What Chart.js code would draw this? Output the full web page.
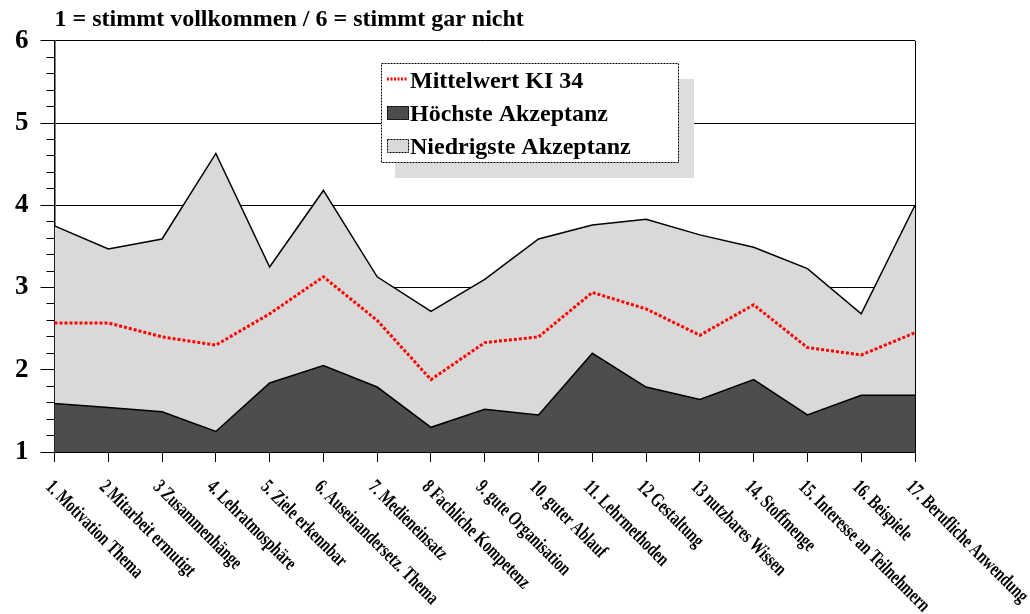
<!DOCTYPE html>
<html>
<head>
<meta charset="utf-8">
<script src="https://cdn.jsdelivr.net/npm/chart.js@4"></script>
<style>
  body { margin: 0; background: #fff; }
</style>
</head>
<body>
<canvas id="akzeptanzChart" width="1030" height="614"></canvas>
<script>
'use strict';

//** Data */

let kategorien = [
  '1. Motivation Thema', '2 Mitarbeit ermutigt', '3 Zusammenhänge', '4. Lehratmosphäre',
  '5. Ziele erkennbar', '6. Auseinandersetz. Thema', '7. Medieneinsatz', '8 Fachliche Kompetenz',
  '9. gute Organisation', '10. guter Ablauf', '11. Lehrmethoden', '12 Gestaltung',
  '13 nutzbares Wissen', '14. Stoffmenge', '15. Interesse an Teilnehmern', '16. Beispiele',
  '17. Berufliche Anwendung'
];

let mittelwert = [2.57, 2.57, 2.40, 2.30, 2.68, 3.13, 2.60, 1.88, 2.33, 2.40, 2.94, 2.74, 2.42, 2.79, 2.27, 2.18, 2.45];
let hoechste = [1.59, 1.54, 1.49, 1.25, 1.84, 2.05, 1.79, 1.30, 1.52, 1.45, 2.20, 1.79, 1.64, 1.88, 1.45, 1.69, 1.69];
let niedrigste = [3.75, 3.47, 3.59, 4.63, 3.25, 4.18, 3.13, 2.71, 3.10, 3.59, 3.76, 3.83, 3.64, 3.49, 3.23, 2.68, 4.00];

let skalaMin = 1;
let skalaMax = 6;
let untertitel = '1 = stimmt vollkommen / 6 = stimmt gar nicht';

let serif = '"Liberation Serif", "Times New Roman", serif';

function isGanzzahl(v){
  return Math.abs(v - Math.round(v)) < 1e-6;
}

//** Plugins */

// rotated category labels, reading downwards from each tick
let kategorieLabels = {
  id: 'kategorieLabels',
  afterDraw(chart){
    let ctx = chart.ctx;
    let xScale = chart.scales.x;
    ctx.save();
    ctx.fillStyle = '#000';
    ctx.font = 'bold 20px ' + serif;
    ctx.textAlign = 'left';
    ctx.textBaseline = 'top';
    for (let i = 0; i < kategorien.length; i++){
      let x = xScale.getPixelForValue(i);
      ctx.save();
      ctx.translate(x + 1, xScale.bottom + 15);
      ctx.rotate(Math.PI / 4);
      ctx.scale(0.72, 1);
      ctx.fillText(kategorien[i], 0, 0);
      ctx.restore();
    }
    ctx.restore();
  }
};

// boxed legend with drop shadow inside the plot
let schattenLegende = {
  id: 'schattenLegende',
  afterDatasetsDraw(chart){
    let ctx = chart.ctx;
    let box = { x: 381, y: 63, w: 297, h: 99 };
    ctx.save();
    ctx.fillStyle = '#dddddd';
    ctx.fillRect(box.x + 14, box.y + 16, box.w + 2, box.h);
    ctx.fillStyle = '#fff';
    ctx.fillRect(box.x, box.y, box.w, box.h);
    ctx.strokeStyle = '#000';
    ctx.lineWidth = 1;
    ctx.setLineDash([2, 1]);
    ctx.strokeRect(box.x + 0.5, box.y + 0.5, box.w, box.h);

    ctx.font = 'bold 24px ' + serif;
    ctx.textBaseline = 'alphabetic';
    ctx.textAlign = 'left';
    let datasets = chart.data.datasets;
    for (let i = 0; i < datasets.length; i++){
      let ds = datasets[i];
      let baseY = box.y + 25 + i * 33;
      if (ds.fill){
        ctx.fillStyle = ds.backgroundColor;
        ctx.fillRect(box.x + 6, baseY - 15, 22, 14);
        ctx.setLineDash([2, 1]);
        ctx.strokeStyle = '#000';
        ctx.strokeRect(box.x + 6.5, baseY - 14.5, 21, 13);
      } else {
        ctx.strokeStyle = ds.borderColor;
        ctx.lineWidth = 3;
        ctx.setLineDash([2, 1.5]);
        ctx.beginPath();
        ctx.moveTo(box.x + 6, baseY - 9);
        ctx.lineTo(box.x + 27, baseY - 9);
        ctx.stroke();
        ctx.lineWidth = 1;
      }
      ctx.setLineDash([]);
      ctx.fillStyle = '#000';
      ctx.fillText(ds.label, box.x + 29, baseY);
    }
    ctx.restore();
  }
};

//** Chart */

let ctx = document.getElementById('akzeptanzChart');

let chartObj = {
  type: 'line',
  data: {
    labels: kategorien,
    datasets: [
      {
        label: 'Mittelwert KI 34',
        data: mittelwert,
        borderColor: '#ff0000',
        borderWidth: 3,
        borderDash: [3, 2],
        pointRadius: 0,
        fill: false,
        order: 0
      },
      {
        label: 'Höchste Akzeptanz',
        data: hoechste,
        borderColor: '#000',
        borderWidth: 1.5,
        backgroundColor: '#4d4d4d',
        pointRadius: 0,
        fill: 'start',
        order: 1
      },
      {
        label: 'Niedrigste Akzeptanz',
        data: niedrigste,
        borderColor: '#000',
        borderWidth: 1.5,
        backgroundColor: '#d9d9d9',
        pointRadius: 0,
        fill: 'start',
        order: 2
      }
    ]
  },
  options: {
    responsive: false,
    animation: false,
    layout: {
      padding: { left: 3, right: 115, top: 0, bottom: 152 }
    },
    plugins: {
      legend: { display: false },
      tooltip: { enabled: false },
      title: {
        display: true,
        text: untertitel,
        align: 'start',
        fullSize: false,
        color: '#000',
        font: { family: serif, size: 24, weight: 'bold' },
        padding: { top: 5, bottom: 7 }
      }
    },
    scales: {
      x: {
        offset: false,
        ticks: { display: false },
        grid: {
          color: (c) => (c.index === kategorien.length - 1 ? '#000' : 'rgba(0,0,0,0)'),
          tickColor: '#000',
          tickLength: 10,
          lineWidth: 1
        },
        border: { color: '#000', width: 1 }
      },
      y: {
        position: 'left',
        weight: 0,
        min: skalaMin,
        max: skalaMax,
        ticks: { display: false, stepSize: 0.2 },
        grid: {
          color: (c) => (isGanzzahl(c.tick.value) ? '#000' : 'rgba(0,0,0,0)'),
          tickColor: '#000',
          tickLength: 8,
          lineWidth: 1
        },
        border: { color: '#000', width: 1.5 }
      },
      yMajor: {
        position: 'left',
        weight: 1,
        min: skalaMin,
        max: skalaMax,
        ticks: {
          stepSize: 1,
          padding: 12,
          color: '#000',
          font: { family: serif, size: 27, weight: 'bold' }
        },
        grid: {
          drawOnChartArea: false,
          tickColor: '#000',
          tickLength: 6
        },
        border: { display: false }
      }
    }
  },
  plugins: [schattenLegende, kategorieLabels]
};

let akzeptanzChart = new Chart(ctx, chartObj);
</script>
</body>
</html>
